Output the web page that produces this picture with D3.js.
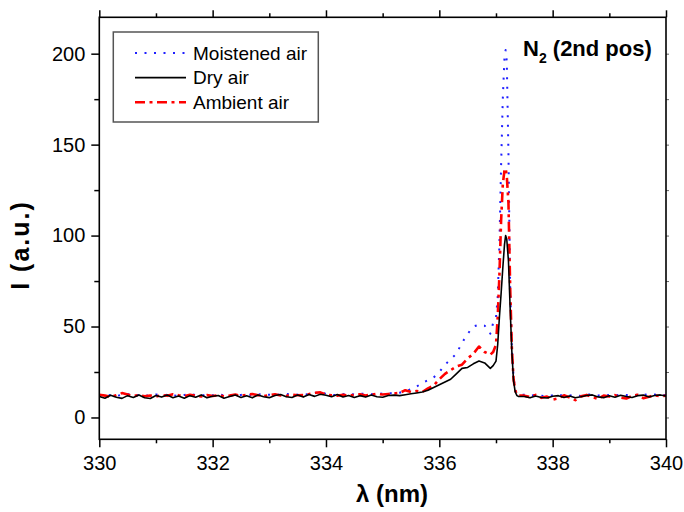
<!DOCTYPE html>
<html><head><meta charset="utf-8">
<script src="https://cdn.jsdelivr.net/npm/d3@7"></script>
<style>body{margin:0;background:#fff}svg{display:block}</style>
</head><body><svg id="c" width="684" height="512"></svg>
<script>
const wavelength = [
330,330.1,330.2,330.3,330.4,330.5,330.6,330.7,330.8,330.9,
331,331.1,331.2,331.3,331.4,331.5,331.6,331.7,331.8,331.9,
332,332.1,332.2,332.3,332.4,332.5,332.6,332.7,332.8,332.9,
333,333.1,333.2,333.3,333.4,333.5,333.6,333.7,333.8,333.9,
334,334.1,334.2,334.3,334.4,334.5,334.6,334.7,334.8,334.9,
335,335.1,335.2,335.3,335.4,335.5,
335.6,335.7,335.8,335.9,336,336.1,336.2,336.3,336.4,336.5,336.6,336.7,336.8,336.9,
336.95,337,337.03,337.06,337.09,337.12,337.15,337.17,337.19,337.22,337.25,337.28,337.31,337.34,337.37,337.4,
337.5,337.6,337.7,337.8,337.9,338,338.1,338.2,338.3,338.4,338.5,338.6,338.7,338.8,338.9,
339,339.1,339.2,339.3,339.4,339.5,339.6,339.7,339.8,339.9,340
];
const moistened = [
12.0,12.6,12.2,11.8,12.5,12.9,12.1,12.4,11.9,12.3,
12.7,12.0,12.5,12.2,11.8,12.4,12.9,12.3,12.0,12.6,
12.2,12.8,12.1,12.5,12.0,12.4,12.7,12.2,12.9,12.3,
12.5,12.1,12.8,13.0,12.4,12.6,12.9,12.5,13.3,14.2,
12.9,12.5,12.2,12.8,13.1,12.6,12.9,13.2,12.8,13.3,
13.0,13.4,13.2,13.6,14.5,15.5,
17,19,20.5,22,25,29,32,35,41,46,50,51,50.5,46,
52,55,66,95,138,175,198,202,196,145,72,38,22,15,13,12.5,
12.5,11.9,12.3,12.0,11.6,12.2,12.6,11.9,12.1,12.4,11.8,12.5,12.8,12.2,11.9,
12.4,12.0,12.7,12.3,11.9,12.5,12.8,12.2,12.6,12.3,12.4
];
const dry = [
11.5,10.6,12.2,11.1,10.5,12.0,11.0,12.4,10.8,10.4,
12.1,11.2,12.3,10.9,11.8,10.6,12.0,11.1,12.4,10.8,
11.7,12.1,10.6,11.5,12.3,11.0,11.9,10.8,12.4,11.4,
10.9,12.1,12.6,11.4,11.0,12.3,11.2,12.6,11.6,12.8,
12.2,11.4,12.6,11.3,12.1,11.0,12.0,11.2,12.3,11.4,
11.1,12.1,12.3,12.0,12.5,13.0,
13.5,14,15,16.5,18,19.5,21,24,27,27.5,29.5,31,30,27,
28.5,31,40,55,68,82,95,100,98,86,60,36,20,14,12,11.5,
11.5,10.8,11.8,11.0,10.7,11.7,12.0,11.0,11.8,10.8,11.4,12.1,12.4,11.3,10.9,
11.9,11.1,12.2,11.5,11.0,12.0,12.3,11.3,12.1,12.4,11.8
];
const ambient = [
12.5,12.0,11.4,12.2,13.4,12.6,11.8,12.3,11.6,12.1,
11.5,12.4,11.9,12.8,12.2,11.7,12.5,12.0,11.6,12.3,
11.8,12.2,11.6,12.0,12.6,11.9,12.4,12.9,12.2,11.7,
12.3,12.8,12.1,11.8,12.6,12.2,12.4,12.9,13.6,13.8,
12.6,12.2,11.9,12.5,12.0,12.4,12.8,12.1,12.5,13.0,
12.6,12.9,13.2,13.5,15.0,14.0,
14.5,14,16,17.5,21,24,26,28,29,32.5,35,39,36,34.5,
36,40,55,78,108,128,136,137,133,118,72,38,21,15,12.5,12,
12.0,11.2,12.4,10.8,11.5,9.8,10.5,12.2,11.0,9.5,11.6,12.4,11.2,10.2,12.0,
11.5,12.3,11.0,10.4,11.8,12.5,10.6,11.4,12.2,11.6,12.0
];
const seriesNames = ["Moistened air", "Dry air", "Ambient air"];
const xTicks = [330, 332, 334, 336, 338, 340];
const xMinorTicks = [331, 333, 335, 337, 339];
const yTicks = [0, 50, 100, 150, 200];
const yMinorTicks = [25, 75, 125, 175];

const svg = d3.select("#c");
const L = 99.3, R = 666, T = 17.3, B = 439.3;
const x = d3.scaleLinear().domain([330, 340]).range([L, R]);
const y = d3.scaleLinear().domain([-12, 220]).range([B, T]);
const font = "'Liberation Sans', Arial, sans-serif";

const styles = [
  {name: seriesNames[0], data: moistened, color: "#1f1fff", width: 2, dash: "2,7.5"},
  {name: seriesNames[2], data: ambient, color: "#ff0000", width: 2.6, dash: "10,4.5,3,4.5"},
  {name: seriesNames[1], data: dry, color: "#000000", width: 1.6, dash: null}
];

const line = d3.line().x(d => x(d[0])).y(d => y(d[1]));
svg.append("clipPath").attr("id","pc").append("rect")
  .attr("x", L).attr("y", T).attr("width", R - L).attr("height", B - T);
const g = svg.append("g").attr("clip-path","url(#pc)");
styles.forEach(s => {
  const n = Math.min(wavelength.length, s.data.length);
  const pts = d3.range(n).map(i => [wavelength[i], s.data[i]]);
  g.append("path").attr("d", line(pts)).attr("fill","none")
    .attr("stroke", s.color).attr("stroke-width", s.width)
    .attr("stroke-dasharray", s.dash).attr("stroke-linejoin","round");
});

function styleAxis(sel){
  sel.select(".domain").remove();
  sel.selectAll("line").attr("stroke","#000").attr("stroke-width",1.5);
  sel.selectAll("text").attr("font-family", font).attr("font-size", 20).attr("fill","#000");
}
const bx = svg.append("g").attr("transform",`translate(0,${B})`)
  .call(d3.axisBottom(x).tickValues(xTicks).tickSize(8).tickPadding(9).tickFormat(d3.format("d")));
styleAxis(bx);
const bxm = svg.append("g").attr("transform",`translate(0,${B})`)
  .call(d3.axisBottom(x).tickValues(xMinorTicks).tickSize(4).tickFormat(""));
styleAxis(bxm);
const tx = svg.append("g").attr("transform",`translate(0,${T})`)
  .call(d3.axisTop(x).tickValues(xTicks).tickSize(7).tickFormat(""));
styleAxis(tx);
const txm = svg.append("g").attr("transform",`translate(0,${T})`)
  .call(d3.axisTop(x).tickValues(xMinorTicks).tickSize(4).tickFormat(""));
styleAxis(txm);
const ly = svg.append("g").attr("transform",`translate(${L},0)`)
  .call(d3.axisLeft(y).tickValues(yTicks).tickSize(8).tickPadding(6).tickFormat(d3.format("d")));
styleAxis(ly);
const lym = svg.append("g").attr("transform",`translate(${L},0)`)
  .call(d3.axisLeft(y).tickValues(yMinorTicks).tickSize(5).tickFormat(""));
styleAxis(lym);
const ry = svg.append("g").attr("transform",`translate(${R},0)`)
  .call(d3.axisRight(y).tickValues(yTicks.concat(yMinorTicks)).tickSize(3).tickFormat(""));
styleAxis(ry);
ry.selectAll("line").attr("stroke","#666").attr("stroke-width",1);

svg.append("rect").attr("x", L).attr("y", T).attr("width", R - L).attr("height", B - T)
  .attr("fill","none").attr("stroke","#000").attr("stroke-width",1.6);

const lg = svg.append("g");
lg.append("rect").attr("x",113.3).attr("y",32).attr("width",205).attr("height",90)
  .attr("fill","#fff").attr("stroke","#555").attr("stroke-width",1.5);
const legendOrder = [styles[0], styles[2], styles[1]];
legendOrder.forEach((s,i) => {
  const yy = 53 + i*24.6;
  lg.append("line").attr("x1",135).attr("x2",186).attr("y1",yy).attr("y2",yy)
    .attr("stroke", s.color).attr("stroke-width", s.width).attr("stroke-dasharray", s.dash);
  lg.append("text").attr("x",193).attr("y",yy).attr("dy","0.36em")
    .attr("font-family",font).attr("font-size",19).text(s.name);
});

const ann = svg.append("text").attr("x",523).attr("y",56)
  .attr("font-family",font).attr("font-weight","bold").attr("font-size",22);
ann.append("tspan").text("N");
ann.append("tspan").attr("font-size",14).attr("dy",7).text("2");
ann.append("tspan").attr("dy",-7).text(" (2nd pos)");

svg.append("text").attr("x",392).attr("y",502).attr("text-anchor","middle")
  .attr("font-family",font).attr("font-weight","bold").attr("font-size",24).text("λ (nm)");
svg.append("text").attr("transform","translate(29,245) rotate(-90)").attr("text-anchor","middle")
  .attr("font-family",font).attr("font-weight","bold").attr("font-size",25)
  .attr("letter-spacing","2px").text("I (a.u.)");
</script>
</body></html>
